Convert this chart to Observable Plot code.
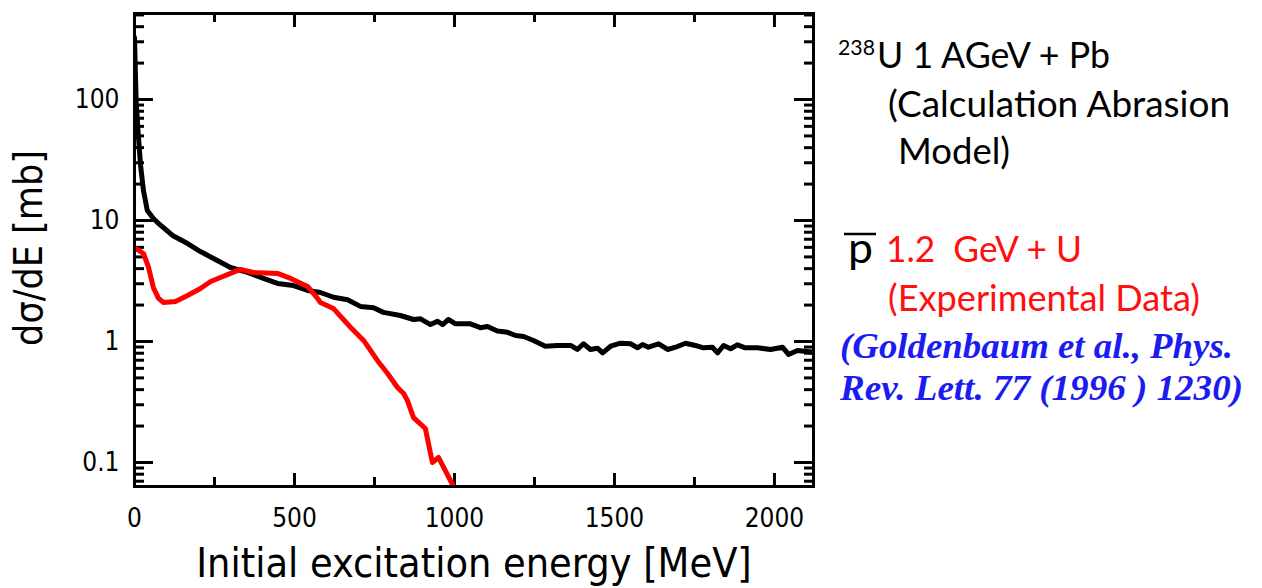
<!DOCTYPE html>
<html>
<head>
<meta charset="utf-8">
<script src="https://cdn.jsdelivr.net/npm/d3@7"></script>
<script src="https://cdn.jsdelivr.net/npm/@observablehq/plot@0.6"></script>
<style>
  html, body { margin: 0; padding: 0; background: #fff; }
  #wrap { position: relative; width: 1262px; height: 588px; overflow: hidden; }
  #legend { position: absolute; left: 0; top: 0; pointer-events: none; }
  #legend text { white-space: pre; }
</style>
</head>
<body>
<div id="wrap"></div>
<script>
// Calculation (Abrasion model), 238U 1 AGeV + Pb
const calcE = [0,5,11,19,28,40,59,72,119,166,206,247,300,353,403,447,497,541,581,622,666,706,747,778,831,872,894,925,947,963,981,1003,1050,1081,1103,1134,1166,1191,1216,1247,1284,1322,1363,1384,1403,1425,1447,1463,1488,1519,1550,1572,1588,1606,1638,1666,1691,1722,1753,1778,1806,1822,1841,1863,1884,1909,1947,1988,2025,2044,2072,2122];
const calcV = [325,98,55,28.5,17.7,12.1,10.4,9.62,7.52,6.45,5.54,4.85,4.09,3.72,3.32,3.02,2.90,2.64,2.54,2.32,2.21,1.95,1.90,1.74,1.64,1.52,1.54,1.38,1.47,1.38,1.52,1.40,1.40,1.30,1.33,1.22,1.19,1.12,1.10,1.02,0.914,0.927,0.927,0.859,0.957,0.859,0.880,0.806,0.914,0.968,0.957,0.887,0.944,0.897,0.957,0.859,0.897,0.968,0.927,0.887,0.897,0.806,0.927,0.871,0.939,0.887,0.887,0.859,0.897,0.781,0.843,0.816];
// Experimental data, pbar 1.2 GeV + U
const expE = [0,28,44,59,75,91,128,166,206,238,331,372,447,488,541,572,581,622,675,716,759,791,822,841,853,872,909,931,950,997];
const expV = [5.98,5.34,4.09,2.79,2.27,2.10,2.14,2.40,2.74,3.13,3.94,3.72,3.65,3.32,2.85,2.27,2.10,1.87,1.31,1.02,0.697,0.544,0.417,0.372,0.325,0.235,0.191,0.100,0.110,0.0633];

// Ticks
const xMajor = [0,500,1000,1500,2000];
const xMinor = [250,750,1250,1750];
const yMajor = [0.1,1,10,100];
const yMinor = [0.07,0.08,0.09,0.2,0.3,0.4,0.5,0.6,0.7,0.8,0.9,2,3,4,5,6,7,8,9,20,30,40,50,60,70,80,90,200,300,400,500];
const yTickLabels = ["0.1","1","10","100"];
const xTickLabels = ["0","500","1000","1500","2000"];

const xLabel = "Initial excitation energy [MeV]";
const yLabel = "dσ/dE [mb]";

const calc = calcE.map((e, i) => ({e, v: calcV[i]}));
const exp = expE.map((e, i) => ({e, v: expV[i]}));
const yTicks = yMajor.map((v, i) => ({v, label: yTickLabels[i]}));
const xTicks = xMajor.map((e, i) => ({e, label: xTickLabels[i]}));

const noText = () => "";
const tickOpts = {strokeWidth: 3, tickFormat: noText, label: null};

const chart = Plot.plot({
  width: 1262,
  height: 588,
  marginLeft: 134,
  marginRight: 449,
  marginTop: 13,
  marginBottom: 102,
  x: {domain: [0, 2122]},
  y: {type: "log", domain: [0.0633, 514]},
  style: {fontFamily: '"DejaVu Sans Condensed", "DejaVu Sans", sans-serif', fontStretch: "condensed", background: "#fff", color: "#000", overflow: "visible"},
  marks: [
    // inward ticks, all four sides
    Plot.axisY(yMajor, {anchor: "left", tickSize: -19, ...tickOpts}),
    Plot.axisY(yMinor, {anchor: "left", tickSize: -10, ...tickOpts}),
    Plot.axisY(yMajor, {anchor: "right", tickSize: -20, ...tickOpts}),
    Plot.axisY(yMinor, {anchor: "right", tickSize: -10, ...tickOpts}),
    Plot.axisX(xMajor, {anchor: "bottom", tickSize: -13, ...tickOpts}),
    Plot.axisX(xMinor, {anchor: "bottom", tickSize: -9, ...tickOpts}),
    Plot.axisX(xMajor, {anchor: "top", tickSize: -13, ...tickOpts}),
    Plot.axisX(xMinor, {anchor: "top", tickSize: -8, ...tickOpts}),
    // tick labels
    Plot.text(yTicks, {y: "v", text: "label", frameAnchor: "left", textAnchor: "end", dx: -15, fontSize: 26, fill: "#000"}),
    Plot.text(xTicks, {x: "e", text: "label", frameAnchor: "bottom", lineAnchor: "top", dy: 22, fontSize: 26, fill: "#000"}),
    // axis titles
    Plot.text([xLabel], {text: d => d, frameAnchor: "bottom", lineAnchor: "bottom", dy: 90, fontSize: 41, fill: "#000"}),
    Plot.text([yLabel], {text: d => d, frameAnchor: "left", rotate: -90, textAnchor: "middle", lineAnchor: "bottom", dx: -93, dy: -2, fontSize: 39, fill: "#000"}),
    // curves
    Plot.line(calc, {x: "e", y: "v", stroke: "#000", strokeWidth: 5, clip: true}),
    Plot.line(exp, {x: "e", y: "v", stroke: "#ff0000", strokeWidth: 5, clip: true}),
    Plot.frame({stroke: "#000", strokeWidth: 3})
  ]
});

const wrap = document.getElementById("wrap");
wrap.appendChild(chart);

// Legend / annotation (outside plot area, to the right)
const hand = '"Lato", "Open Sans", sans-serif';
const serif = '"Liberation Serif", "DejaVu Serif", serif';
const legend = d3.select(wrap).append("svg")
  .attr("id", "legend").attr("width", 1262).attr("height", 588);

function line(x, y, str, opts) {
  const t = legend.append("text")
    .attr("x", x).attr("y", y)
    .attr("font-family", opts.family || hand)
    .attr("font-size", opts.size)
    .attr("fill", opts.fill || "#000");
  if (opts.weight) t.attr("font-weight", opts.weight);
  if (opts.style) t.attr("font-style", opts.style);
  if (opts.len) t.attr("textLength", opts.len).attr("lengthAdjust", "spacingAndGlyphs");
  t.text(str);
  return t;
}

line(838, 55, "238", {size: 21, len: 37});
line(877, 68, "U 1 AGeV + Pb", {size: 36, len: 233});
line(888, 117, "(Calculation Abrasion", {size: 36, len: 342});
line(898, 164, "Model)", {size: 36, len: 112});
line(848, 263, "p", {size: 42, len: 25});
legend.append("line").attr("x1", 844).attr("x2", 876).attr("y1", 234).attr("y2", 234).attr("stroke", "#000").attr("stroke-width", 2.5);
line(886, 262, "1.2  GeV + U", {size: 36, len: 196, fill: "#ff0f0f"});
line(888, 311, "(Experimental Data)", {size: 36, len: 312, fill: "#ff0f0f"});
line(840, 358, "(Goldenbaum et al., Phys.", {size: 35, len: 393, fill: "#1c1cf0", family: serif, weight: "bold", style: "italic"});
line(840, 400, "Rev. Lett. 77 (1996 ) 1230)", {size: 35, len: 403, fill: "#1c1cf0", family: serif, weight: "bold", style: "italic"});
</script>
</body>
</html>
